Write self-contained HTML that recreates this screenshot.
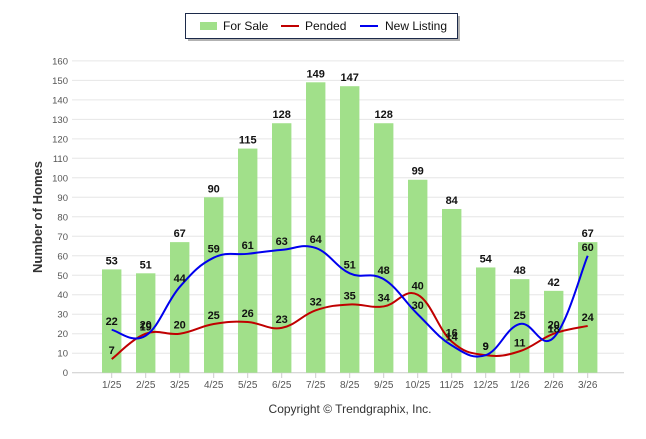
<!DOCTYPE html>
<html><head><meta charset="utf-8"><style>
body{margin:0;background:#fff;width:646px;height:434px;overflow:hidden;font-family:"Liberation Sans",Arial,sans-serif}
</style></head><body>
<svg width="646" height="434" xmlns="http://www.w3.org/2000/svg">
<g>
<rect x="188" y="16" width="272" height="25" fill="#666" opacity="0.5"/>
<rect x="185.5" y="13.5" width="272" height="25" fill="#fff" stroke="#1c2a4a" stroke-width="1"/>
<rect x="160" y="22" width="17" height="8" fill="#a1e08a" transform="translate(40,0)"/>
<text x="223" y="30" font-size="12" fill="#111">For Sale</text>
<line x1="281" y1="26" x2="299" y2="26" stroke="#c00000" stroke-width="2"/>
<text x="305" y="30" font-size="12" fill="#111">Pended</text>
<line x1="360" y1="26" x2="378" y2="26" stroke="#0000ee" stroke-width="2"/>
<text x="385" y="30" font-size="12" fill="#111">New Listing</text>
</g>
<g id="grid"></g>
<text transform="translate(42,217) rotate(-90)" text-anchor="middle" font-size="13" font-weight="bold" fill="#333">Number of Homes</text>
<g id="bars"></g>
<path id="pend" fill="none" stroke="#c00000" stroke-width="2"/>
<path id="newl" fill="none" stroke="#0000ee" stroke-width="2"/>
<g id="labels"></g>
<text x="350" y="413" text-anchor="middle" font-size="12" fill="#333">Copyright © Trendgraphix, Inc.</text>
</svg>
<script>
const categories=["1/25","2/25","3/25","4/25","5/25","6/25","7/25","8/25","9/25","10/25","11/25","12/25","1/26","2/26","3/26"];
const forSale=[53,51,67,90,115,128,149,147,128,99,84,54,48,42,67];
const pended=[7,20,20,25,26,23,32,35,34,40,16,9,11,20,24];
const newListing=[22,19,44,59,61,63,64,51,48,30,14,9,25,18,60];
const yTicks=[0,10,20,30,40,50,60,70,80,90,100,110,120,130,140,150,160];
const NS="http://www.w3.org/2000/svg";
const X=i=>111.7+34*i;
const Y=v=>372.7-v*1.949;
function mk(t,a,p){const e=document.createElementNS(NS,t);for(const k in a)e.setAttribute(k,a[k]);p.appendChild(e);return e;}
const grid=document.getElementById('grid');
yTicks.forEach(v=>{
 const l=mk('line',{x1:72,x2:624,y1:Y(v),y2:Y(v),stroke:v===0?'#ccc':'#e6e6e6','stroke-width':1},grid);
 
 
 const t=mk('text',{x:68,y:Y(v)+3.5,'text-anchor':'end','font-size':9.5,fill:'#555'},grid);
 t.textContent=v;
 
 
});
const bars=document.getElementById('bars'),labels=document.getElementById('labels');
categories.forEach((c,i)=>{
 const tk=mk('line',{x1:X(i),x2:X(i),y1:373,y2:378,stroke:'#ccc'},grid);
 
 
 const t=mk('text',{x:X(i),y:388,'text-anchor':'middle','font-size':10,fill:'#555'},grid);
 t.textContent=c;
 
 
 const b=mk('rect',{x:X(i)-9.7,y:Y(forSale[i]),width:19.4,height:Y(0)-Y(forSale[i]),fill:'#a1e08a'},bars);
 
 
});
function curve(arr){
 const p=arr.map((v,i)=>[X(i),Y(v)]);let d=`M${p[0][0]},${p[0][1]}`;
 for(let i=0;i<p.length-1;i++){
  const p0=p[i-1]||p[i],p1=p[i],p2=p[i+1],p3=p[i+2]||p2;const k=0.2;
  d+=` C${p1[0]+(p2[0]-p0[0])*k},${p1[1]+(p2[1]-p0[1])*k} ${p2[0]-(p3[0]-p1[0])*k},${p2[1]-(p3[1]-p1[1])*k} ${p2[0]},${p2[1]}`;
 }return d;}
document.getElementById('pend').setAttribute('d',curve(pended));
document.getElementById('newl').setAttribute('d',curve(newListing));
function lab(arr,name){arr.forEach((v,i)=>{
 const t=mk('text',{x:X(i),y:Y(v)-5,'text-anchor':'middle','font-size':11,'font-weight':'bold',fill:'#111'},labels);
 t.textContent=v;
 
 
});}
lab(forSale,'for-sale-value');lab(newListing,'new-listing-value');lab(pended,'pended-value');
</script>
</body></html>
